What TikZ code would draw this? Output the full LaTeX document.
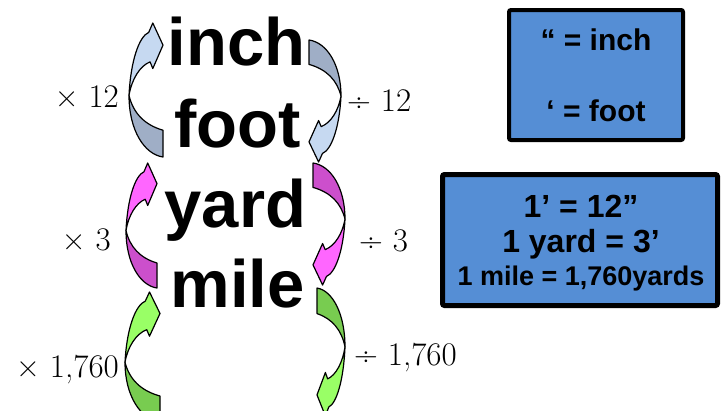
\documentclass[tikz,border=0pt]{standalone}
\usepackage{fontspec}
\newfontfamily\headfont{Liberation Sans}
\usetikzlibrary{positioning}
\definecolor{inchdark}{HTML}{9FAEC6}
\definecolor{inchlight}{HTML}{C6D9F1}
\definecolor{yarddark}{HTML}{CC4FCC}
\definecolor{yardlight}{HTML}{FF66FF}
\definecolor{miledark}{HTML}{78CC50}
\definecolor{milelight}{HTML}{99FF66}
\definecolor{notefill}{HTML}{558ED5}

% curved block arrow in a unit box: #1 placement, #2 tail colour, #3 head colour
\newcommand{\bendarrow}[3]{%
  \begin{scope}[#1]
    \filldraw[arrline, fill=#2] (1,1) .. controls (0.45,0.98) and (0,0.8) .. (0,0.54)
      .. controls (0.12,0.67) and (0.45,0.76) .. (1,0.8) -- cycle;
    \filldraw[arrline, fill=#3] (0,0.54) .. controls (0.05,0.28) and (0.3,0.1) .. (0.58,0.07)
      -- (0.70,0) -- (1,0.165) -- (0.70,0.34) -- (0.62,0.29)
      .. controls (0.32,0.32) and (0.08,0.42) .. (0,0.54) -- cycle;
  \end{scope}}

\begin{document}
\begin{tikzpicture}[x=1pt, y=-1pt,
  word/.style={font=\headfont\bfseries\fontsize{67}{67}\selectfont, inner sep=0pt, anchor=base},
  opleft/.style={font=\fontsize{33}{33}\selectfont, inner sep=0pt, anchor=base east},
  opright/.style={font=\fontsize{33}{33}\selectfont, inner sep=0pt, anchor=base west},
  note/.style={draw=black, fill=notefill, rounded corners=2pt, inner sep=0pt, align=center},
  notetext/.style={font=\headfont\bfseries\fontsize{32}{32}\selectfont, inner sep=0pt, anchor=base},
  arrline/.style={draw=black, line width=1.2pt, line join=round}
]
\useasboundingbox (0,0) rectangle (728,410);

% the curved arrows
\bendarrow{shift={(129,23)}, xscale=34, yscale=134}{inchdark}{inchlight}
\bendarrow{shift={(341,162)}, xscale=-32, yscale=-122}{inchdark}{inchlight}
\bendarrow{shift={(126,163)}, xscale=31, yscale=125}{yarddark}{yardlight}
\bendarrow{shift={(345,285)}, xscale=-32, yscale=-122}{yarddark}{yardlight}
\bendarrow{shift={(125,292)}, xscale=35, yscale=130}{miledark}{milelight}
\bendarrow{shift={(345,416)}, xscale=-28, yscale=-128}{miledark}{milelight}

% units
\node[word] (inch) at (236.5,65) {inch};
\node[word] (foot) at (237.5,147) {foot};
\node[word] (yard) at (235.5,227) {yard};
\node[word] (mile) at (237.5,307) {mile};

% factors
\node[opleft] (mul12) at (119,107) {× 12};
\node[opright] (div12) at (347,111) {÷ 12};
\node[opleft] (mul3) at (111,250) {× 3};
\node[opright] (div3) at (359,251) {÷ 3};
\node[opleft] (mul1760) at (119,377) {× 1,760};
\node[opright] (div1760) at (354,365) {÷ 1,760};

% notes
\node[note, line width=4pt, minimum width=174pt, minimum height=130pt,
  font=\headfont\bfseries\fontsize{30}{71}\selectfont] (marks) at (596,75) {“ = inch\\‘ = foot};
\node[note, line width=5pt, minimum width=275pt, minimum height=131pt] (facts) at (580,240) {};
\node[notetext] (feet) at (581,217) {1’ = 12”};
\node[notetext] (yards) at (581,252) {1 yard = 3’};
\node[notetext, font=\headfont\bfseries\fontsize{27}{27}\selectfont] (miles) at (581,285) {1 mile = 1,760yards};
\end{tikzpicture}
\end{document}
